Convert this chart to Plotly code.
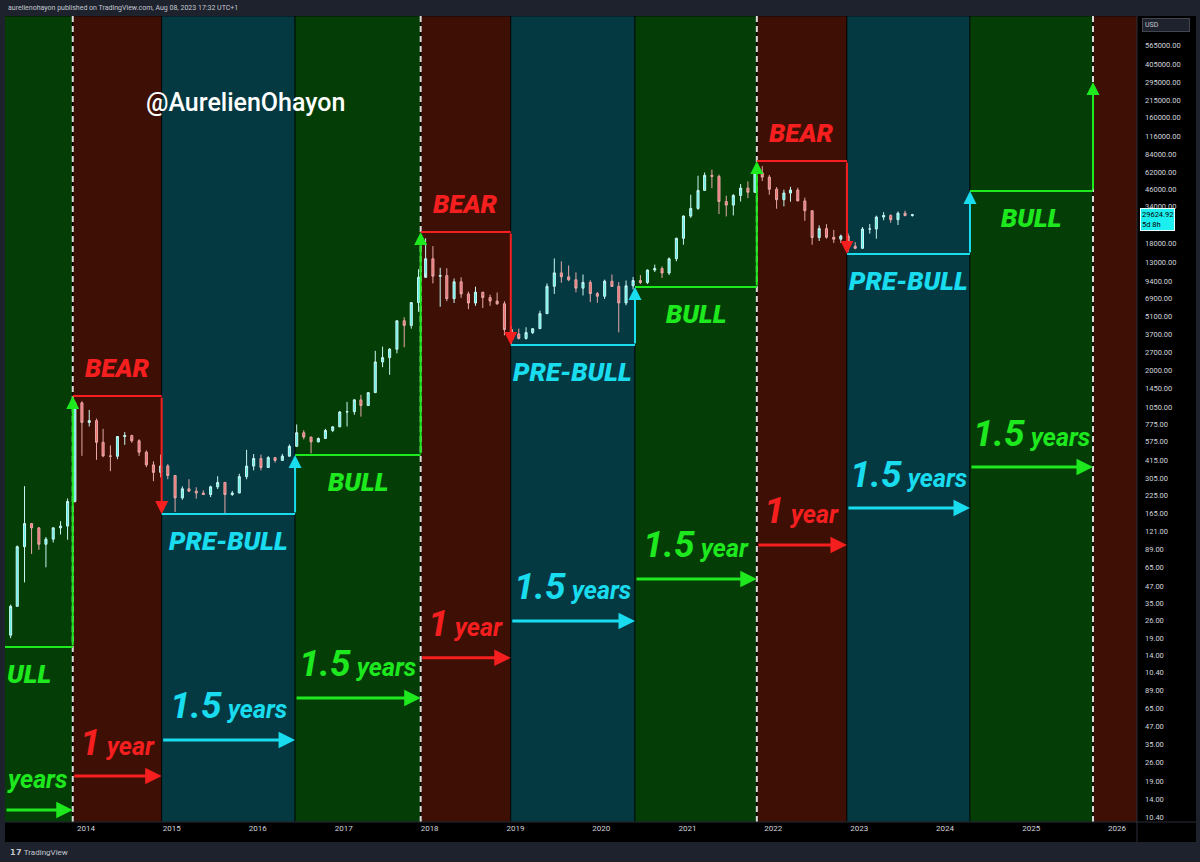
import numpy as np
import pandas as pd
import plotly.graph_objects as go

# ---------------- DATA ----------------
# Monthly BTC/USD candles (Feb 2013 .. Aug 2023)
month_start = pd.date_range('2013-02-01', periods=127, freq='MS')
opens = [20, 33, 93, 139, 129, 97, 106, 129, 133, 204, 1130,
         805, 830, 570, 450, 447, 630, 640, 585, 480, 385, 338, 378,
         320, 217, 254, 244, 236, 230, 263, 284, 230, 236, 314, 377,
         430, 368, 437, 416, 448, 531, 673, 624, 574, 609, 700, 745,
         964, 970, 1190, 1080, 1350, 2300, 2480, 2870, 4700, 4340, 6450, 10000,
         13800, 10200, 10300, 6900, 9250, 7500, 6400, 7730, 7030, 6620, 6320, 4040,
         3740, 3460, 3830, 4100, 5320, 8570, 10800, 10090, 9590, 8290, 9150, 7540,
         7200, 9350, 8540, 6410, 8630, 9450, 9140, 11350, 11650, 10780, 13800, 19700,
         28990, 33100, 45240, 58800, 57700, 37300, 35050, 41460, 47100, 43800, 61300, 57000,
         46200, 38500, 43200, 45500, 37700, 31800, 19950, 23300, 20050, 19400, 20500, 17150,
         16550, 23130, 23150, 28480, 29250, 27200, 30470, 29230]
highs = [34, 95, 266, 140, 130, 110, 130, 145, 215, 1163, 1163,
         1000, 860, 720, 540, 630, 680, 650, 600, 495, 410, 460, 390,
         320, 265, 300, 261, 247, 268, 316, 285, 245, 330, 500, 465,
         460, 448, 440, 466, 549, 777, 703, 626, 620, 720, 755, 980,
         1150, 1210, 1300, 1350, 2790, 3000, 2930, 4750, 5000, 6470, 11500, 19700,
         17200, 11800, 11700, 9800, 10000, 7800, 8500, 7760, 7400, 7680, 6600, 4300,
         4100, 4200, 4100, 5600, 9000, 13880, 13200, 12300, 10900, 10500, 9500, 7750,
         9600, 10500, 9200, 9460, 10070, 10400, 11450, 12470, 12090, 14100, 19900, 29300,
         41950, 58350, 61800, 64850, 59500, 41300, 42400, 50500, 52900, 67000, 69000, 59100,
         47950, 45800, 48200, 47450, 39900, 31900, 24650, 25200, 22800, 21000, 21450, 18400,
         23950, 25250, 29200, 31000, 29850, 31400, 31800, 30100]
lows = [19, 33, 50, 82, 88, 65, 100, 115, 105, 200, 450,
        750, 420, 440, 345, 425, 545, 565, 450, 370, 290, 310, 300,
        170, 210, 240, 214, 228, 220, 253, 162, 225, 236, 300, 350,
        350, 367, 400, 415, 444, 531, 600, 470, 570, 605, 680, 745,
        750, 920, 890, 1080, 1350, 2100, 1840, 2670, 2970, 4100, 5500, 10700,
        9000, 6000, 6600, 6400, 7000, 5750, 6100, 5880, 6100, 6200, 3650, 3150,
        3400, 3390, 3730, 4080, 5320, 7500, 9100, 9350, 7700, 7300, 6500, 6430,
        6870, 8450, 3850, 6150, 8110, 8900, 8900, 10960, 9880, 10400, 13200, 17600,
        28100, 32300, 45000, 47000, 30000, 28800, 29300, 37300, 39600, 43300, 53250, 42000,
        32900, 34300, 37200, 37600, 26700, 17600, 18800, 19550, 18150, 18200, 15500, 16300,
        16500, 21350, 19550, 26950, 25800, 24800, 28850, 28750]
closes = [33, 93, 139, 129, 97, 106, 129, 133, 204, 1130, 805,
          830, 570, 450, 447, 630, 640, 585, 480, 385, 338, 378, 320,
          217, 254, 244, 236, 230, 263, 284, 230, 236, 314, 377, 430,
          368, 437, 416, 448, 531, 673, 624, 574, 609, 700, 745, 964,
          970, 1190, 1080, 1350, 2300, 2480, 2870, 4700, 4340, 6450, 10000, 13800,
          10200, 10300, 6900, 9250, 7500, 6400, 7730, 7030, 6620, 6320, 4040, 3740,
          3460, 3830, 4100, 5320, 8570, 10800, 10090, 9590, 8290, 9150, 7540, 7200,
          9350, 8540, 6410, 8630, 9450, 9140, 11350, 11650, 10780, 13800, 19700, 28990,
          33100, 45240, 58800, 57700, 37300, 35050, 41460, 47100, 43800, 61300, 57000, 46200,
          38500, 43200, 45500, 37700, 31800, 19950, 23300, 20050, 19400, 20500, 17150, 16550,
          23130, 23150, 28480, 29250, 27200, 30470, 29230, 29625]
last_price_text = "29624.92<br>5d 8h"
last_price = 29624.92

# Cycle phases
phase_name = ['BULL', 'BEAR', 'PRE-BULL', 'BULL', 'BEAR', 'PRE-BULL', 'BULL', 'BEAR', 'PRE-BULL', 'BULL', 'BEAR']
phase_label = ['ULL', 'BEAR', 'PRE-BULL', 'BULL', 'BEAR', 'PRE-BULL', 'BULL', 'BEAR', 'PRE-BULL', 'BULL']
phase_start = ['2012-05-20', '2013-11-06', '2014-11-19', '2016-06-08', '2017-11-24', '2018-12-12',
               '2020-05-23', '2021-10-23', '2022-11-10', '2024-04-16', '2025-09-21']
phase_end = phase_start[1:] + ['2027-06-01']
phase_level = [16.3, 1274, 164, 457, 21970, 3090, 8450, 75400, 15000, 44800]
final_target = 297000
duration_text = ['|years', '1|year', '1.5|years', '1.5|years', '1|year', '1.5|years',
                 '1.5|year', '1|year', '1.5|years', '1.5|years']
duration_level = [0.96, 1.73, 3.24, 6.72, 13.5, 25.6, 53.1, 95.8, 182, 371]
peak_dates = ['2013-11-06', '2017-11-24', '2021-10-23', '2025-09-21']

year_ticks = [str(y) for y in range(2014, 2027)]
price_tick_vals = [565000, 405000, 295000, 215000, 160000, 116000, 84000, 62000, 46000, 34000,
                   18000, 13000, 9400, 6900, 5100, 3700, 2700, 2000, 1450, 1050, 775, 575, 415,
                   305, 225, 165, 121, 89, 65, 47, 35, 26, 19, 14, 10.4,
                   7.62, 5.57, 4.07, 2.98, 2.18, 1.59, 1.16, 0.85]
price_tick_text = ['565000.00', '405000.00', '295000.00', '215000.00', '160000.00', '116000.00',
                   '84000.00', '62000.00', '46000.00', '34000.00', '18000.00', '13000.00',
                   '9400.00', '6900.00', '5100.00', '3700.00', '2700.00', '2000.00', '1450.00',
                   '1050.00', '775.00', '575.00', '415.00', '305.00', '225.00', '165.00',
                   '121.00', '89.00', '65.00', '47.00', '35.00', '26.00', '19.00', '14.00',
                   '10.40', '89.00', '65.00', '47.00', '35.00', '26.00', '19.00', '14.00', '10.40']

# ---------------- STYLE ----------------
band_color = {'BULL': '#053d06', 'BEAR': '#3d0f05', 'PRE-BULL': '#043942'}
mark_color = {'BULL': '#1ee81e', 'BEAR': '#f51f1f', 'PRE-BULL': '#19dcef'}
x_range = ['2013-01-22', '2026-03-27']
y_range = [-0.108, 5.971]
FONT = 'Roboto'

fig = go.Figure()

candle_x = month_start + pd.Timedelta(days=14)
fig.add_trace(go.Candlestick(
    x=candle_x, open=opens, high=highs, low=lows, close=closes,
    increasing=dict(line=dict(color='#c8f7f3', width=1), fillcolor='#5aefe8'),
    decreasing=dict(line=dict(color='#e8a8a8', width=1), fillcolor='#f07070'),
    whiskerwidth=0, showlegend=False, hoverinfo='skip'))

shapes = []
annotations = []

# bands
for name, s, e in zip(phase_name, phase_start, phase_end):
    shapes.append(dict(type='rect', xref='x', yref='paper', x0=s, x1=e, y0=0, y1=1,
                       fillcolor=band_color[name], line=dict(width=1, color='rgba(0,0,0,0.7)'),
                       layer='below'))
# dashed peak lines
for d in peak_dates:
    shapes.append(dict(type='line', xref='x', yref='paper', x0=d, x1=d, y0=0, y1=1,
                       line=dict(color='#d9d9d9', width=2, dash='6px,4px'), layer='below'))

t0 = pd.Timestamp(x_range[0])
for i, lvl in enumerate(phase_level):
    name = phase_name[i]
    col = mark_color[name]
    s = pd.Timestamp(phase_start[i])
    e = pd.Timestamp(phase_end[i])
    mid = s + (e - s) / 2
    clipped = s < t0
    s_vis = max(s, t0)
    # horizontal step
    fig.add_trace(go.Scatter(x=[s, e], y=[lvl, lvl], mode='lines',
                             line=dict(color=col, width=2), showlegend=False, hoverinfo='skip'))
    # vertical step arrow to next level
    nxt = phase_level[i + 1] if i + 1 < len(phase_level) else final_target
    annotations.append(dict(x=e, y=np.log10(nxt), ax=e, ay=np.log10(lvl), xref='x', yref='y',
                            axref='x', ayref='y', text='', showarrow=True, arrowhead=2,
                            arrowsize=1.3, arrowwidth=2, arrowcolor=col, standoff=0, startstandoff=0))
    # phase label
    annotations.append(dict(x=s_vis if clipped else mid, y=np.log10(lvl), xref='x', yref='y',
                            showarrow=False, xanchor='left' if clipped else 'center',
                            text='<i>%s</i>' % phase_label[i], yshift=28 if name == 'BEAR' else -27,
                            font=dict(family=FONT, size=26, color=col, weight=900, style='italic')))
    # duration arrow
    dl = duration_level[i]
    annotations.append(dict(x=e, y=np.log10(dl), ax=s_vis, ay=np.log10(dl), xref='x', yref='y',
                            axref='x', ayref='y', text='', showarrow=True, arrowhead=2,
                            arrowsize=1.1, arrowwidth=3, arrowcolor=col, standoff=0, startstandoff=0))
    num, unit = duration_text[i].split('|')
    if num:
        txt = ("<b><i><span style='font-size:37px'>%s</span> "
               "<span style='font-size:25px'>%s</span></i></b>" % (num, unit))
    else:
        txt = "<b><i><span style='font-size:25px'>%s</span></i></b>" % unit
    annotations.append(dict(x=s_vis if clipped else mid, y=np.log10(dl), xref='x', yref='y',
                            showarrow=False, xanchor='left' if clipped else 'center',
                            yshift=34 if num else 31, text=txt,
                            font=dict(family=FONT, size=25, color=col, weight='bold', style='italic')))

# frame pieces (pixel layout: plot x 5..1137, y 16..822)
def px(x):
    return (x - 5) / 1132.0

def py(y):
    return (822 - y) / 806.0

frame = '#1e222d'
shapes += [
    dict(type='rect', xref='paper', yref='paper', x0=px(0), x1=px(1200), y0=py(16), y1=py(0),
         fillcolor=frame, line=dict(width=0), layer='below'),
    dict(type='rect', xref='paper', yref='paper', x0=px(0), x1=px(1200), y0=py(862), y1=py(842),
         fillcolor=frame, line=dict(width=0), layer='below'),
    dict(type='rect', xref='paper', yref='paper', x0=px(0), x1=px(5), y0=py(842), y1=py(16),
         fillcolor=frame, line=dict(width=0), layer='below'),
    dict(type='rect', xref='paper', yref='paper', x0=px(1196), x1=px(1200), y0=py(842), y1=py(16),
         fillcolor=frame, line=dict(width=0), layer='below'),
    dict(type='line', xref='paper', yref='paper', x0=px(1137), x1=px(1137), y0=py(842), y1=py(16),
         line=dict(width=1, color='#2a2e39'), layer='above'),
    dict(type='line', xref='paper', yref='paper', x0=px(5), x1=px(1196), y0=py(822), y1=py(822),
         line=dict(width=1, color='#2a2e39'), layer='above'),
]

annotations += [
    dict(xref='paper', yref='paper', x=px(6), y=py(8), xanchor='left', yanchor='middle',
         showarrow=False, text='aurelienohayon published on TradingView.com, Aug 08, 2023 17:32 UTC+1',
         font=dict(family=FONT, size=7, color='#c4c7d0')),
    dict(xref='paper', yref='paper', x=px(8), y=py(852), xanchor='left', yanchor='middle',
         showarrow=False, text='<b>𝟭𝟳</b> TradingView',
         font=dict(family=FONT, size=8, color='#c4c7d0')),
    dict(xref='paper', yref='paper', x=px(144), y=py(102), xanchor='left', yanchor='middle',
         showarrow=False, text='@AurelienOhayon',
         font=dict(family=FONT, size=25, color='#ffffff', weight=500)),
    dict(xref='paper', yref='paper', x=px(1166), y=py(25), xanchor='center', yanchor='middle',
         showarrow=False, text='USD', width=42, align='left', bgcolor='#1e222d',
         bordercolor='#434651', borderwidth=1, borderpad=2,
         font=dict(family=FONT, size=7, color='#c4c7d0')),
    dict(xref='paper', yref='y', x=px(1140), y=np.log10(last_price), xanchor='left', yanchor='top',
         yshift=7, showarrow=False, text=last_price_text, align='left', bgcolor='#1cefef',
         bordercolor='#e8ffff', borderwidth=1, borderpad=1,
         font=dict(family=FONT, size=7.5, color='#000000')),
]

fig.update_layout(
    width=1200, height=862, autosize=False,
    margin=dict(l=5, r=63, t=16, b=40, pad=0),
    paper_bgcolor='#000000', plot_bgcolor='#000000',
    shapes=shapes, annotations=annotations, showlegend=False,
    boxgap=0.55,
    xaxis=dict(type='date', range=x_range, rangeslider=dict(visible=False),
               tickvals=[y + '-01-01' for y in year_ticks], ticktext=year_ticks,
               showgrid=False, zeroline=False, showline=False, ticks='',
               tickfont=dict(family=FONT, size=8, color='#d1d4dc')),
    yaxis=dict(type='log', range=y_range, side='right', tickvals=price_tick_vals,
               ticktext=price_tick_text, showgrid=False, zeroline=False, showline=False,
               ticks='', ticklabelstandoff=7,
               tickfont=dict(family=FONT, size=7.5, color='#d1d4dc')),
)

fig.write_html('out.html')
